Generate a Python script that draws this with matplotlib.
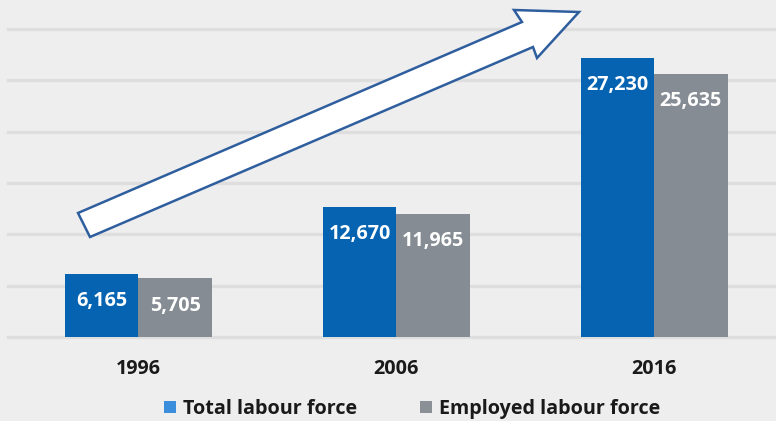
import matplotlib
matplotlib.use("Agg")
import matplotlib.pyplot as plt
from matplotlib.patches import Patch, Polygon
import numpy as np

plt.rcParams['font.family'] = ['Open Sans', 'DejaVu Sans']
plt.rcParams['font.weight'] = 'bold'

years = ["1996", "2006", "2016"]
total_labour = [6165, 12670, 27230]
employed_labour = [5705, 11965, 25635]
series_names = ["Total labour force", "Employed labour force"]

BG = "#EEEEEE"
GRID = "#DEDEDE"
BLUE = "#0563B1"
GRAY = "#858C93"
BLUE_KEY = "#3A8EDB"
GRAY_KEY = "#8A9096"
FS = 14.2

W, H = 776, 421
fig = plt.figure(figsize=(W / 100, H / 100), dpi=100, facecolor=BG)
ax = fig.add_axes([8 / W, 1 - 337 / H, 768 / W, 337 / H], facecolor=BG)

x = np.arange(len(years))
width = 0.285
ax.set_xlim(-0.506, 2.473)
ax.set_ylim(0, 32846)

for y in range(0, 30001, 5000):
    ax.axhline(y, color=GRID, lw=2.4, zorder=0, clip_on=False)

b1 = ax.bar(x - width / 2, total_labour, width, color=BLUE, zorder=2)
b2 = ax.bar(x + width / 2, employed_labour, width, color=GRAY, zorder=2)

for bars, vals in ((b1, total_labour), (b2, employed_labour)):
    for rect, v in zip(bars, vals):
        ax.annotate(f"{v:,}", (rect.get_x() + rect.get_width() / 2, v),
                    xytext=(0, -19.5), textcoords="offset points",
                    ha="center", va="center", color="white",
                    fontsize=FS, fontweight="bold", zorder=3)

ax.set_xticks(x)
ax.set_xticklabels(years, fontsize=FS, fontweight="bold", color="#1a1a1a")
ax.tick_params(axis="x", length=0, pad=16)
ax.set_yticks([])
for s in ax.spines.values():
    s.set_visible(False)

# rising arrow drawn in figure pixel space
pts = np.array([(78, 213), (522, 22), (514, 10), (579, 12),
                (537, 58), (533, 47), (90, 237)], dtype=float)
pts[:, 1] = H - pts[:, 1]
arrow = Polygon(pts, closed=True, facecolor="white", edgecolor="#2F5E9E",
                lw=1.8, transform=None, zorder=4, joinstyle="miter")
fig.patches.append(arrow)

handles = [Patch(facecolor=BLUE_KEY, edgecolor="none"),
           Patch(facecolor=GRAY_KEY, edgecolor="none")]
leg = fig.legend(handles, series_names, loc="center",
                 bbox_to_anchor=(412 / W, 1 - 409 / H), ncol=2,
                 frameon=False, fontsize=FS, handlelength=0.6,
                 handleheight=0.6, handletextpad=0.35, columnspacing=3.2)
for t in leg.get_texts():
    t.set_fontweight("bold")
    t.set_color("#1a1a1a")

fig.savefig("out.png", dpi=100, facecolor=BG)
